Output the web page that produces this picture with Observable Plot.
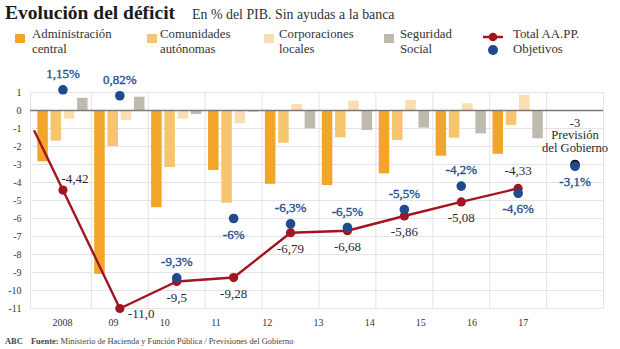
<!DOCTYPE html>
<html><head><meta charset="utf-8">
<script src="https://cdn.jsdelivr.net/npm/d3@7"></script>
<script src="https://cdn.jsdelivr.net/npm/@observablehq/plot@0.6"></script>
<style>
body{margin:0;background:#fff;font-family:"Liberation Serif",serif;color:#222}
#page{position:relative;width:620px;height:349px;overflow:hidden}
#header{position:relative;height:64px}
.abs{position:absolute;white-space:nowrap}
#title{left:5px;top:3.4px;font-size:19.5px;font-weight:bold;line-height:1;color:#1a1a1a}
#subtitle{left:192px;top:7.7px;font-size:13.9px;line-height:1;color:#333}
.leg{top:27px;font-size:12.8px;line-height:15px;color:#333}
.sw{width:10px;height:9px;top:34px}
#footer{position:relative;height:13px;font-size:8.4px;color:#444}
#footer span{position:absolute;top:1px;white-space:nowrap}
</style></head>
<body><div id="page">
<div id="header"></div>
<div id="chart"></div>
<div id="footer"><span style="left:5px;font-weight:bold">ABC</span><span style="left:31px"><b>Fuente:</b> Ministerio de Hacienda y Función Pública / Previsiones del Gobierno</span></div>
</div>
<script>
// ---- data ----
const years = [2008, 2009, 2010, 2011, 2012, 2013, 2014, 2015, 2016];
const seriesNames = ["Administración<br>central", "Comunidades<br>autónomas", "Corporaciones<br>locales", "Seguridad<br>Social"];
const seriesColors = ["#F2A52B", "#F7C470", "#FCDDB1", "#BEBBAE"];
const adminCentral   = [-2.85, -9.1, -5.4, -3.33, -4.1, -4.17, -3.52, -2.54, -2.43];
const comunidades    = [-1.7, -2.0, -3.17, -5.15, -1.82, -1.52, -1.67, -1.54, -0.83];
const corporaciones  = [-0.48, -0.55, -0.48, -0.74, 0.33, 0.52, 0.56, 0.37, 0.85];
const seguridadSocial= [0.68, 0.74, -0.22, -0.09, -1.02, -1.11, -0.98, -1.3, -1.57];
const totalValues = [-4.42, -11.0, -9.5, -9.28, -6.79, -6.68, -5.86, -5.08, -4.33];
const totalLabels = ["-4,42", "-11,0", "-9,5", "-9,28", "-6,79", "-6,68", "-5,86", "-5,08", "-4,33"];
const lineStart = {year: 2007.5, value: -1.15}; // where the line enters the plot
const objectiveYears  = [2008, 2009, 2010, 2011, 2012, 2013, 2014, 2015, 2016, 2017];
const objectiveValues = [1.15, 0.82, -9.3, -6, -6.3, -6.5, -5.5, -4.2, -4.6, -3.1];
const forecastYear = 2017, forecastValue = -3;
const forecastLines = ["-3", "Previsión", "del Gobierno"];
const xTickLabels = ["2008", "09", "10", "11", "12", "13", "14", "15", "16", "17"];
const yTicks = d3.range(-11, 2);

// ---- header / legend ----
const header = document.getElementById("header");
const RED = "#A3141F", BLUE = "#1F4B8E", BLUE_TXT = "#24508E";
let h = `<div id="title" class="abs">Evolución del déficit</div><div id="subtitle" class="abs">En % del PIB. Sin ayudas a la banca</div>`;
const swX = [15, 147, 264, 384], txX = [32, 160, 279, 400];
seriesNames.forEach((n, i) => {
  h += `<div class="abs sw" style="left:${swX[i]}px;background:${seriesColors[i]}"></div>`;
  h += `<div class="abs leg" style="left:${txX[i]}px">${n}</div>`;
});
h += `<svg class="abs" style="left:480px;top:28px" width="30" height="30">
<line x1="3" y1="9" x2="23" y2="9" stroke="${RED}" stroke-width="2.5"/><circle cx="13" cy="9" r="4.3" fill="${RED}"/>
<circle cx="13" cy="22" r="5" fill="${BLUE}"/></svg>`;
h += `<div class="abs leg" style="left:513px">Total AA.PP.<br>Objetivos</div>`;
header.innerHTML = h;

// ---- tidy tables ----
const seriesArrays = [adminCentral, comunidades, corporaciones, seguridadSocial];
const bars = years.flatMap((year, i) => seriesArrays.map((arr, k) => ({year, k, value: arr[i]})));
const totals = years.map((year, i) => ({year, value: totalValues[i], label: totalLabels[i]}));
const objectives = objectiveYears.map((year, i) => ({year, value: objectiveValues[i],
  label: String(objectiveValues[i]).replace(".", ",") + "%"}));
const objBelow = new Set([2011, 2016, 2017]);
const forecast = forecastLines.map((t, i) => ({year: forecastYear, value: forecastValue, t, i}));

const BAR_STEP = 0.233, BAR_W = 0.185, LABEL_STEP = 0.9;
const txt = {fontSize: 13, fill: "#2a2a2a"};
const blueTxt = {fontSize: 13, fill: BLUE_TXT, stroke: BLUE_TXT, strokeWidth: 0.35};

const chart = Plot.plot({
  width: 620, height: 272,
  marginLeft: 30, marginRight: 17, marginTop: 28, marginBottom: 28,
  style: {fontFamily: "Liberation Serif, serif", fontSize: "10px", background: "white", overflow: "visible"},
  x: {domain: [2007.5, 2017.5], insetLeft: 4, axis: null},
  y: {domain: [-11, 1], axis: null},
  marks: [
    Plot.ruleY(yTicks, {stroke: "#e4e4e4"}),
    Plot.ruleX(d3.range(2008.5, 2018, 1), {stroke: "#e4e4e4"}),
    Plot.frame({stroke: "#e4e4e4"}),
    ...seriesArrays.map((_, k) => Plot.rect(bars.filter(d => d.k === k), {
      x1: d => d.year + (d.k - 1.5) * BAR_STEP - BAR_W / 2,
      x2: d => d.year + (d.k - 1.5) * BAR_STEP + BAR_W / 2,
      y1: () => 0, y2: "value", fill: seriesColors[k]})),
    Plot.ruleY([0], {stroke: "#7a7a7a", strokeWidth: 1.3}),
    Plot.axisY(yTicks, {anchor: "left", tickSize: 0, tickPadding: 9, tickFormat: d => String(d), label: null, color: "#333", fontSize: 10}),
    Plot.text(xTickLabels, {x: (d, i) => years[0] - 0.01 + i * LABEL_STEP, frameAnchor: "bottom", dy: 17, text: d => d, fontSize: 10, fill: "#333"}),
    Plot.line([lineStart, ...totals], {x: "year", y: "value", stroke: RED, strokeWidth: 2.4}),
    Plot.dot(totals, {x: "year", y: "value", r: 4.6, fill: RED}),
    Plot.dot([{year: forecastYear, value: forecastValue}], {x: "year", y: "value", r: 4.8, fill: "#111"}),
    Plot.dot(objectives, {x: "year", y: "value", r: 4.8, fill: BLUE}),
    Plot.text(objectives.filter(d => !objBelow.has(d.year)), {x: "year", y: "value", text: "label", dy: -16, ...blueTxt}),
    Plot.text(objectives.filter(d => objBelow.has(d.year)), {x: "year", y: "value", text: "label", dy: 16, ...blueTxt}),
    Plot.text(totals.filter(d => d.year === 2008), {x: "year", y: "value", text: "label", dx: 12, dy: -11, ...txt}),
    Plot.text(totals.filter(d => d.year === 2009), {x: "year", y: "value", text: "label", dx: 8, dy: 5, textAnchor: "start", ...txt}),
    Plot.text(totals.filter(d => d.year === 2016), {x: "year", y: "value", text: "label", dy: -18, ...txt}),
    Plot.text(totals.filter(d => d.year > 2009 && d.year < 2016), {x: "year", y: "value", text: "label", dy: 16, ...txt}),
    ...forecast.map(f => Plot.text([f], {x: "year", y: "value", text: "t", dy: -42 + f.i * 12.6, fontSize: 12.6, fill: "#2a2a2a"}))
  ]
});
document.getElementById("chart").appendChild(chart);
</script>
</body></html>
